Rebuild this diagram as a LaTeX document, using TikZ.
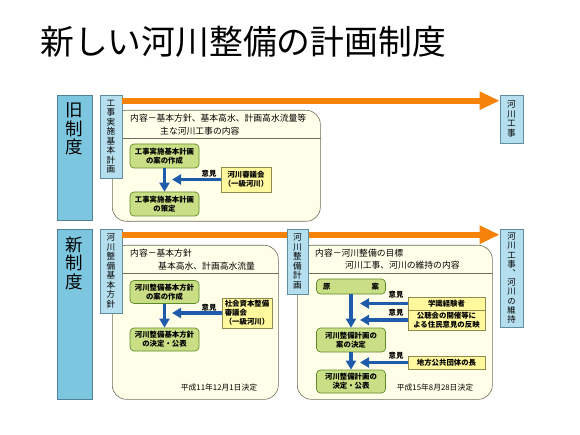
\documentclass[tikz,border=0pt]{standalone}
\usepackage{fontspec}
\setmainfont{Noto Sans CJK JP}
\newfontfamily\vfont{Noto Sans CJK JP}[RawFeature=+vert]
\usetikzlibrary{arrows.meta,calc}
\definecolor{bigfill}{HTML}{7DC6DF}
\definecolor{bigdraw}{HTML}{4F8296}
\definecolor{narfill}{HTML}{B5DFEE}
\definecolor{nardraw}{HTML}{5E8EA0}
\definecolor{framefill}{HTML}{FFFFE9}
\definecolor{framedraw}{HTML}{6E6E5E}
\definecolor{gfill}{HTML}{CADF85}
\definecolor{gdraw}{HTML}{5F8A2A}
\definecolor{yfill}{HTML}{FFF89C}
\definecolor{ydraw}{HTML}{8E8A50}
\definecolor{bluec}{HTML}{1E5BAA}
\definecolor{orangec}{HTML}{F7820A}
\tikzset{
 bigbox/.style={draw=bigdraw, fill=bigfill, line width=0.8pt, minimum width=35pt, inner sep=0pt},
 bigtxt/.style={font=\fontsize{17.5}{18.5}\selectfont, align=center, inner sep=0pt, anchor=north},
 narrow/.style={draw=nardraw, fill=narfill, line width=0.6pt, minimum width=22pt, inner sep=0pt, align=center, font=\vfont\fontsize{8.6}{9.5}\selectfont},
 frame/.style={draw=framedraw, fill=framefill, line width=0.6pt, rounded corners=14pt, inner sep=0pt, anchor=north west},
 divider/.style={draw=framedraw, line width=0.6pt},
 gbox/.style={draw=gdraw, fill=gfill, line width=0.7pt, rounded corners=4pt, minimum width=69pt, minimum height=24pt, inner sep=0pt, align=center, font=\bfseries\fontsize{7.4}{9}\selectfont},
 ybox/.style={draw=ydraw, fill=yfill, line width=0.6pt, inner sep=0pt, font=\bfseries\fontsize{7.4}{9}\selectfont},
 orangearr/.style={draw=orangec, line width=6pt, -{Triangle[length=20pt,width=17pt]}},
 bluearr/.style={draw=bluec, line width=3.5pt, -{Triangle[length=9pt,width=10pt]}},
 hdr/.style={anchor=west, inner sep=0pt, font=\fontsize{8.8}{10}\selectfont},
 iken/.style={font=\bfseries\fontsize{7.4}{9}\selectfont, inner sep=0pt},
 datetxt/.style={font=\fontsize{7.8}{9}\selectfont, inner sep=0pt}
}
\begin{document}
\begin{tikzpicture}[x=1pt,y=-1pt]
\useasboundingbox[fill=white] (0,0) rectangle (580,435);
% title
\node[anchor=west, inner sep=0pt, font=\fontsize{33.8}{36}\selectfont] (title) at (40,42) {新しい河川整備の計画制度};

% ===== old system =====
\node[bigbox, minimum height=125pt] (oldbig) at (74.5,157.5) {};
\node[bigtxt] (oldbigt) at ($(oldbig.north)+(0,8)$) {旧\\制\\度};
\node[frame, minimum width=208pt, minimum height=111pt] (oframe) at (112,110) {};
\draw[divider] (oframe.west |- 0,138) -- (oframe.east |- 0,138);
\node[narrow, minimum height=83pt] (oldn) at (111,136.5) {工\\事\\実\\施\\基\\本\\計\\画};
\node[narrow, minimum width=23pt, minimum height=48pt] (kj) at (511.5,119) {河\\川\\工\\事};
\draw[orangearr] ($(oldn.north east)+(0,6)$) -- ($(kj.north west)+(0,6)$);
\node[hdr] (oh1) at (130,118) {内容－基本方針、基本高水、計画高水流量等};
\node[hdr] (oh2) at (160,131) {主な河川工事の内容};
\node[gbox] (g1) at (164.5,156) {工事実施基本計画\\の案の作成};
\node[gbox] (g2) at (164.5,204) {工事実施基本計画\\の策定};
\node[ybox, minimum width=50pt, minimum height=25pt, align=center] (y1) at (246,179.5) {河川審議会\\（一級河川）};
\coordinate (e1) at (172,0);
\draw[bluearr] (g1) -- (g2);
\draw[bluearr] (y1.west) -- (y1.west -| e1);
\node[iken] (i1) at (209,174) {意見};

% ===== new system =====
\node[bigbox, minimum height=170pt] (newbig) at (74.5,314) {};
\node[bigtxt] (newbigt) at ($(newbig.north)+(0,8)$) {新\\制\\度};
\node[frame, minimum width=166pt, minimum height=154pt] (lframe) at (112,245) {};
\draw[divider] (lframe.west |- 0,273) -- (lframe.east |- 0,273);
\node[frame, minimum width=195pt, minimum height=154pt] (rframe) at (297,245) {};
\draw[divider] (rframe.west |- 0,273) -- (rframe.east |- 0,273);
\node[narrow, minimum height=84pt] (newn) at (111,271) {河\\川\\整\\備\\基\\本\\方\\針};
\node[narrow, minimum width=23pt, minimum height=98pt, font=\vfont\fontsize{8.4}{9.2}\selectfont] (kj2) at (511.5,278) {河\\川\\工\\事\\、\\河\\川\\の\\維\\持};
\draw[orangearr] ($(newn.north east)+(0,6)$) -- ($(kj2.north west)+(0,6)$);
\node[narrow, minimum width=21pt, minimum height=65pt] (plann) at (297.5,261.5) {河\\川\\整\\備\\計\\画};

% left panel
\node[hdr] (lh1) at (130,253) {内容－基本方針};
\node[hdr] (lh2) at (158,266) {基本高水、計画高水流量};
\node[gbox, minimum height=23pt] (g3) at (164.5,292) {河川整備基本方針\\の案の作成};
\node[gbox, minimum height=23pt] (g4) at (164.5,339.5) {河川整備基本方針\\の決定・公表};
\node[ybox, minimum width=50pt, minimum height=30pt, align=left] (y2) at (247,313) {社会資本整備\\審議会\\（一級河川）};
\coordinate (e2) at (172,0);
\draw[bluearr] (g3) -- (g4);
\draw[bluearr] (y2.west) -- (y2.west -| e2);
\node[iken] (i2) at (209,308) {意見};
\node[datetxt] (d1) at (219,388) {平成11年12月1日決定};

% right panel
\node[hdr] (rh1) at (315,253) {内容－河川整備の目標};
\node[hdr] (rh2) at (345,265) {河川工事、河川の維持の内容};
\node[gbox, minimum height=15pt] (genan) at (351,286.5) {原\hspace{41pt}案};
\node[gbox] (p1) at (351,340) {河川整備計画の\\案の決定};
\node[gbox, minimum height=23pt] (p2) at (351,381.5) {河川整備計画の\\決定・公表};
\node[ybox, minimum width=77pt, minimum height=13pt] (gk) at (446.5,303.5) {学識経験者};
\node[ybox, minimum width=77pt, minimum height=20pt, align=center] (kc) at (446.5,320) {公聴会の開催等に\\よる住民意見の反映};
\node[ybox, minimum width=77pt, minimum height=13pt] (ch) at (446.5,362.5) {地方公共団体の長};
\coordinate (e3) at (360,0);
\draw[bluearr] (genan) -- (p1);
\draw[bluearr] (p1) -- (p2);
\draw[bluearr] (gk.west) -- (gk.west -| e3);
\draw[bluearr] (kc.west) -- (kc.west -| e3);
\draw[bluearr] (ch.west) -- (ch.west -| e3);
\node[iken] (i3) at (396,295) {意見};
\node[iken] (i4) at (396,313) {意見};
\node[iken] (i5) at (396,356) {意見};
\node[datetxt] (d2) at (435,388) {平成15年8月28日決定};
\end{tikzpicture}
\end{document}
